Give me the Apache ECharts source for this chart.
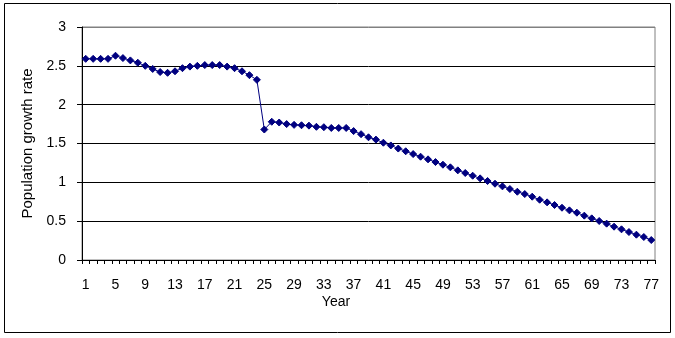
<!DOCTYPE html>
<html>
<head>
<meta charset="utf-8">
<script src="https://cdn.jsdelivr.net/npm/echarts@6/dist/echarts.min.js"></script>
<style>
  html, body { margin: 0; padding: 0; background: #fff; }
  #chart { width: 675px; height: 338px; }
</style>
</head>
<body>
<div id="chart"></div>
<script>
// year index on the x axis
var years = [
  "1", "2", "3", "4", "5", "6", "7", "8", "9", "10",
  "11", "12", "13", "14", "15", "16", "17", "18", "19", "20",
  "21", "22", "23", "24", "25", "26", "27", "28", "29", "30",
  "31", "32", "33", "34", "35", "36", "37", "38", "39", "40",
  "41", "42", "43", "44", "45", "46", "47", "48", "49", "50",
  "51", "52", "53", "54", "55", "56", "57", "58", "59", "60",
  "61", "62", "63", "64", "65", "66", "67", "68", "69", "70",
  "71", "72", "73", "74", "75", "76", "77"
];
// population growth rate
var growthRate = [
  2.59, 2.59, 2.59, 2.59, 2.63, 2.60, 2.57, 2.54, 2.50, 2.46,
  2.42, 2.41, 2.43, 2.47, 2.49, 2.50, 2.51, 2.51, 2.51, 2.49,
  2.47, 2.43, 2.38, 2.32, 1.68, 1.78, 1.77, 1.75, 1.74, 1.735,
  1.73, 1.715, 1.71, 1.70, 1.70, 1.70, 1.66, 1.62, 1.58, 1.55,
  1.51, 1.475, 1.435, 1.40, 1.364, 1.33, 1.296, 1.261, 1.227, 1.193,
  1.154, 1.12, 1.085, 1.051, 1.017, 0.982, 0.948, 0.914, 0.879, 0.849,
  0.815, 0.776, 0.742, 0.708, 0.673, 0.639, 0.609, 0.571, 0.536, 0.502,
  0.468, 0.429, 0.395, 0.36, 0.326, 0.296, 0.257
];
var yTitle = "Population growth rate";
var xTitle = "Year";

var font = "'Liberation Sans', Arial, sans-serif";
var navy = "#000080";

var chart = echarts.init(document.getElementById("chart"), null, {renderer: "canvas"});
var option = {
  animation: false,
  backgroundColor: "#fff",
  textStyle: {fontFamily: font, color: "#000"},
  grid: {
    left: 82,
    right: 20,
    top: 27,
    bottom: 78,
    show: true,
    borderColor: "#808080",
    borderWidth: 1,
    backgroundColor: "#fff"
  },
  xAxis: {
    type: "category",
    data: years,
    boundaryGap: true,
    axisLine: {lineStyle: {color: "#000", width: 1}},
    axisTick: {show: true, interval: 0, length: 4, lineStyle: {color: "#000"}},
    axisLabel: {interval: 3, margin: 18, fontSize: 14, color: "#000", fontFamily: font},
    splitLine: {show: false}
  },
  yAxis: {
    type: "value",
    min: 0,
    max: 3,
    interval: 0.5,
    name: yTitle,
    nameLocation: "middle",
    nameRotate: 90,
    nameGap: 47,
    nameTextStyle: {fontSize: 15, color: "#000", fontFamily: font},
    axisLine: {show: true, lineStyle: {color: "#000", width: 1}},
    axisTick: {show: true, length: 5, lineStyle: {color: "#000"}},
    axisLabel: {margin: 16, fontSize: 14, color: "#000", fontFamily: font},
    splitLine: {
      show: true,
      lineStyle: {color: ["#000", "#000", "#000", "#000", "#000", "#000", "#808080"], width: 1}
    }
  },
  graphic: [
    {
      type: "rect",
      shape: {x: 4.5, y: 3.5, width: 666, height: 329},
      style: {fill: null, stroke: "#000", lineWidth: 1},
      z: 100
    },
    {
      type: "text",
      x: 336,
      y: 302,
      style: {
        text: xTitle,
        font: "14px " + font,
        fill: "#000",
        textAlign: "center",
        textVerticalAlign: "middle"
      }
    }
  ],
  series: [
    {
      type: "line",
      data: growthRate,
      symbol: "diamond",
      symbolSize: 7,
      showSymbol: true,
      showAllSymbol: true,
      itemStyle: {color: navy, borderColor: navy},
      lineStyle: {color: navy, width: 1}
    }
  ]
};
chart.setOption(option);
</script>
</body>
</html>
